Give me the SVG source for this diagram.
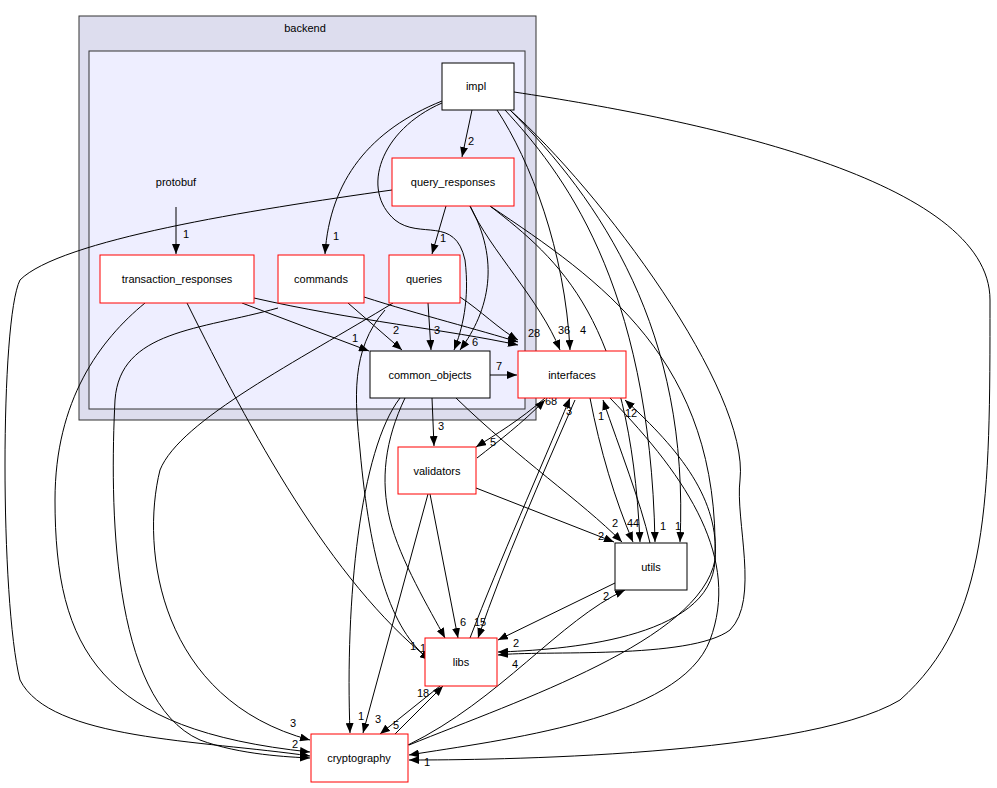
<svg xmlns="http://www.w3.org/2000/svg" width="997" height="788" viewBox="0 0 997 788">
<defs>
<marker id="a" markerWidth="10" markerHeight="8" refX="10" refY="4" orient="auto" markerUnits="userSpaceOnUse"><path d="M0,0 L10,4 L0,8 Z" fill="#000"/></marker>
<style>
text{font-family:"Liberation Sans",Arial,sans-serif;font-size:11px;fill:#000}
.n{fill:#fff;stroke:#000;stroke-width:1}
.r{fill:#fff;stroke:#f00;stroke-width:1}
.e path{fill:none;stroke:#000;stroke-width:1;marker-end:url(#a)}
.e text{font-size:11px}
.c{text-anchor:middle}
</style>
</defs>
<rect width="997" height="788" fill="#fff"/>
<g id="backend"><rect x="79" y="16" width="457" height="404" fill="#ddddee" stroke="#333"/><text x="305" y="32" class="c">backend</text></g>
<g id="protobuf_cluster"><rect x="89" y="51" width="436" height="358" fill="#eeeeff" stroke="#333"/></g>
<g id="protobuf"><text x="176" y="186" class="c">protobuf</text></g>
<g class="e" id="edges">
<path d="M176,207 L176,254"/><text x="183" y="238">1</text>
<path d="M472,110 L462,157"/><text x="468" y="145">2</text>
<path d="M442,101 C370,130 330,180 325,254"/><text x="333" y="240">1</text>
<path d="M442,103 C380,130 360,190 395,220 C420,240 455,215 465,260 C470,300 462,330 454,350"/>
<path d="M497,110 C530,160 565,250 570,350"/><text x="580" y="334">4</text>
<path d="M505,110 C560,170 650,280 655,542"/><text x="660" y="530">1</text>
<path d="M510,110 C600,200 690,330 680,542"/><text x="675" y="530">1</text>
<path d="M510,110 C600,190 750,390 740,480 C735,520 760,600 730,630 C690,660 540,650 498,655"/><text x="512" y="668">4</text>
<path d="M514,92 C700,120 990,180 990,300 C990,500 990,620 900,700 C800,760 450,760 409,760"/><text x="424" y="766">1</text>
<path d="M392,190 C250,210 60,240 20,280 C0,320 0,600 20,680 C50,740 200,740 310,756"/><text x="292" y="748">2</text>
<path d="M446,206 L432,254"/><text x="440" y="242">1</text>
<path d="M470,206 C500,260 490,310 460,350"/><text x="472" y="346">6</text>
<path d="M470,206 C490,250 540,300 560,350"/><text x="558" y="334">36</text>
<path d="M490,206 C560,260 630,320 640,542"/>
<path d="M490,206 C600,280 720,360 715,560 C712,640 560,650 498,652"/>
<path d="M242,303 L369,351"/><text x="352" y="342">1</text>
<path d="M254,298 C350,320 450,330 518,345"/>
<path d="M187,303 C250,430 330,580 430,660"/><text x="410" y="650">1</text>
<path d="M145,303 C100,340 55,400 55,500 C55,650 100,730 310,752"/>
<path d="M348,303 L402,350"/><text x="393" y="334">2</text>
<path d="M364,297 C420,315 480,330 518,342"/>
<path d="M278,308 C200,330 120,330 115,400 C110,500 110,700 200,740 C240,755 290,757 310,758"/>
<path d="M393,303 C300,360 180,420 160,470 C140,550 160,700 310,740"/><text x="290" y="727">3</text>
<path d="M428,303 L431,350"/><text x="434" y="334">3</text>
<path d="M460,297 C480,310 500,330 518,340"/><text x="528" y="337">28</text>
<path d="M385,310 C350,350 355,400 360,450 C370,560 390,630 430,660"/><text x="420" y="652">1</text>
<path d="M490,375 L517,375"/><text x="496" y="370">7</text>
<path d="M432,398 L434,446"/><text x="438" y="430">3</text>
<path d="M456,398 C520,460 580,500 622,542"/><text x="612" y="527">2</text>
<path d="M405,398 C385,440 380,480 390,520 C400,560 430,610 445,638"/><text x="442" y="650">1</text>
<path d="M400,398 C360,450 345,600 350,733"/><text x="358" y="720">1</text>
<path d="M545,398 C520,420 495,435 476,447"/><text x="490" y="446">5</text>
<path d="M477,458 C500,440 520,425 545,400"/><text x="545" y="405">68</text>
<path d="M590,398 C600,450 615,500 633,542"/><text x="627" y="527">44</text>
<path d="M650,543 C640,500 620,450 603,400"/><text x="598" y="420">1</text>
<path d="M610,398 C690,480 740,560 710,640 C680,720 500,740 409,755"/>
<path d="M409,745 C520,700 700,640 715,560 C720,500 680,450 625,400"/><text x="625" y="417">12</text>
<path d="M470,638 C500,560 540,470 570,398"/><text x="566" y="415">3</text>
<path d="M575,400 C540,480 505,560 478,638"/><text x="474" y="626">15</text>
<path d="M476,488 L614,542"/><text x="598" y="540">2</text>
<path d="M430,494 L458,638"/><text x="460" y="626">6</text>
<path d="M428,494 L363,733"/><text x="375" y="723">3</text>
<path d="M615,583 L498,640"/><text x="513" y="647">2</text>
<path d="M408,745 C500,700 560,620 625,590"/><text x="603" y="600">2</text>
<path d="M440,686 L380,734"/><text x="417" y="697">18</text>
<path d="M395,734 L443,686"/><text x="393" y="729">5</text>
</g>
<g id="impl"><rect class="n" x="442" y="63" width="72" height="47"/><text x="476" y="90" class="c">impl</text></g>
<g id="query_responses"><rect class="r" x="392" y="158" width="122" height="48"/><text x="453" y="186" class="c">query_responses</text></g>
<g id="transaction_responses"><rect class="r" x="100" y="255" width="154" height="48"/><text x="177" y="283" class="c">transaction_responses</text></g>
<g id="commands"><rect class="r" x="278" y="255" width="86" height="48"/><text x="321" y="283" class="c">commands</text></g>
<g id="queries"><rect class="r" x="389" y="255" width="71" height="48"/><text x="424" y="283" class="c">queries</text></g>
<g id="common_objects"><rect class="n" x="370" y="351" width="120" height="47"/><text x="430" y="379" class="c">common_objects</text></g>
<g id="interfaces"><rect class="r" x="518" y="351" width="108" height="47"/><text x="572" y="379" class="c">interfaces</text></g>
<g id="validators"><rect class="r" x="398" y="447" width="78" height="47"/><text x="437" y="475" class="c">validators</text></g>
<g id="utils"><rect class="n" x="615" y="543" width="72" height="47"/><text x="651" y="571" class="c">utils</text></g>
<g id="libs"><rect class="r" x="425" y="638" width="72" height="48"/><text x="461" y="666" class="c">libs</text></g>
<g id="cryptography"><rect class="r" x="311" y="734" width="97" height="48"/><text x="359" y="762" class="c">cryptography</text></g>
</svg>
